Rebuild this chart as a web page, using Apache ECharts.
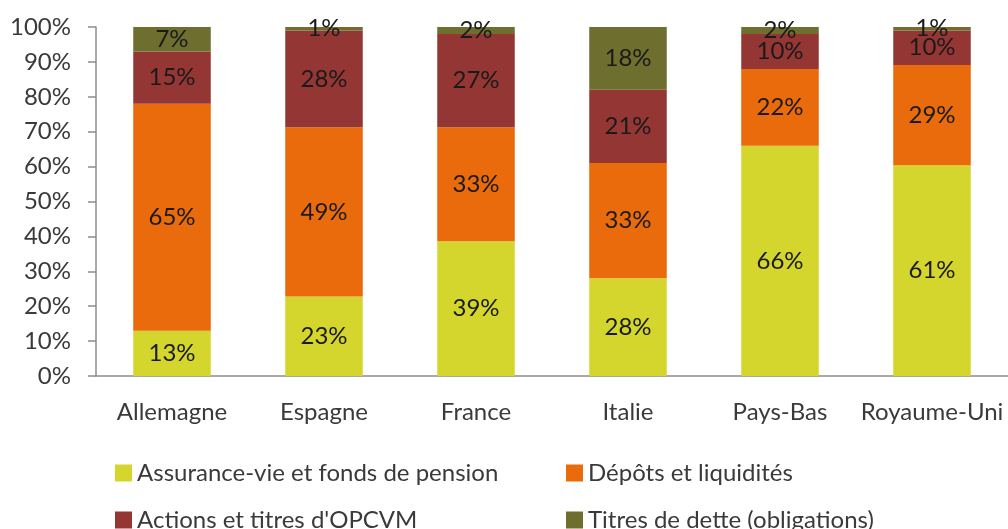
<!DOCTYPE html>
<html>
<head>
<meta charset="utf-8">
<script src="https://cdn.jsdelivr.net/npm/echarts@6/dist/echarts.min.js"></script>
<style>
html,body{margin:0;padding:0;background:#fff;}
#chart{width:1008px;height:529px;}
</style>
</head>
<body>
<div id="chart"></div>
<script>
// Répartition du patrimoine financier des ménages (en % du total)
const categories = ['Allemagne', 'Espagne', 'France', 'Italie', 'Pays-Bas', 'Royaume-Uni'];
const seriesNames = ['Assurance-vie et fonds de pension', 'Dépôts et liquidités', "Actions et titres d'OPCVM", 'Titres de dette (obligations)'];
const assuranceVie = [13, 23, 39, 28, 66, 61];
const depots = [65, 49, 33, 33, 22, 29];
const actions = [15, 28, 27, 21, 10, 10];
const titresDette = [7, 1, 2, 18, 2, 1];
const yTicks = ['0%', '10%', '20%', '30%', '40%', '50%', '60%', '70%', '80%', '90%', '100%'];

const colors = ['#D4D62E', '#E96B0C', '#933634', '#6E6E2E'];
const raw = [assuranceVie, depots, actions, titresDette];

// each bar is drawn as a share of its own total (100 % stacked)
const totals = categories.map((_, i) => raw.reduce((s, arr) => s + arr[i], 0));

const font = 'Lato, "Noto Sans", sans-serif';
const textColor = '#3a3a3a';
const fs = 24;

const series = raw.map((arr, k) => ({
  name: seriesNames[k],
  type: 'bar',
  stack: 'total',
  barWidth: '51%',
  itemStyle: { color: colors[k] },
  data: arr.map((v, i) => ({ value: v / totals[i] * 100, raw: v })),
  label: {
    show: true,
    position: 'inside',
    color: '#1a1a1a',
    fontFamily: font,
    fontSize: fs,
    formatter: p => p.data.raw + '%'
  }
}));

// legend entries placed on two rows, two columns
const legendPos = [
  { left: 115, top: 461 },
  { left: 566, top: 461 },
  { left: 115, top: 508 },
  { left: 566, top: 508 }
];
const legends = seriesNames.map((n, k) => ({
  data: [n],
  left: legendPos[k].left,
  top: legendPos[k].top,
  padding: 0,
  icon: 'rect',
  itemWidth: 17,
  itemHeight: 17,
  itemGap: 6,
  selectedMode: false,
  textStyle: { fontFamily: font, fontSize: fs, color: textColor }
}));

const chart = echarts.init(document.getElementById('chart'), null, { renderer: 'canvas' });
chart.setOption({
  animation: false,
  backgroundColor: '#fff',
  grid: { left: 96, right: 0, top: 27, bottom: 153, containLabel: false },
  legend: legends,
  xAxis: {
    type: 'category',
    data: categories,
    axisLine: { lineStyle: { color: '#8c8c8c', width: 1.5 } },
    axisTick: { show: false },
    axisLabel: { interval: 0, fontFamily: font, fontSize: fs, color: textColor, margin: 24 }
  },
  yAxis: {
    type: 'value',
    min: 0,
    max: 100,
    interval: 10,
    splitLine: { show: false },
    axisLine: { show: true, lineStyle: { color: '#8c8c8c', width: 1.5 } },
    axisTick: { show: true, length: 8, lineStyle: { color: '#8c8c8c', width: 1.5 } },
    axisLabel: {
      fontFamily: font, fontSize: fs, color: textColor, margin: 25,
      formatter: v => yTicks[Math.round(v / 10)]
    }
  },
  series: series
});
</script>
</body>
</html>
